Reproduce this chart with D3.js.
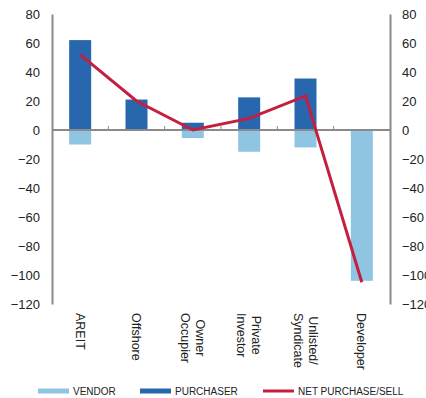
<!DOCTYPE html>
<html>
<head>
<meta charset="utf-8">
<script src="https://cdn.jsdelivr.net/npm/d3@7"></script>
<style>
  body { margin: 0; background: #fff; }
  text { font-family: "Liberation Sans", Arial, sans-serif; fill: #222; }
</style>
</head>
<body>
<svg id="vis" width="426" height="398"></svg>
<script>
const categories = [["AREIT"], ["Offshore"], ["Owner", "Occupier"], ["Private", "Investor"], ["Unlisted/", "Syndicate"], ["Developer"]];
const purchaser = [62, 21, 5, 22.5, 35.5, 0];
const vendor = [-10, 0, -5.5, -15, -12, -104];
const net = [52, 20, 0, 8, 23.5, -105];
const yTicks = [80, 60, 40, 20, 0, -20, -40, -60, -80, -100, -120];

const colors = { vendor: "#8fc4e2", purchaser: "#2867ae", net: "#c41f3f", axis: "#8a8a8a" };

const svg = d3.select("#vis");
const left = 52, right = 390;

const x = d3.scaleBand().domain(d3.range(categories.length)).range([left, right]);
const y = d3.scaleLinear().domain([-120, 80]).range([304, 14]);
const barW = 22;

// bars
svg.append("g").selectAll("rect.vendor")
  .data(vendor)
  .join("rect")
    .attr("x", (d, i) => x(i) + (x.bandwidth() - barW) / 2)
    .attr("y", y(0))
    .attr("width", barW)
    .attr("height", d => y(d) - y(0))
    .attr("fill", colors.vendor);

svg.append("g").selectAll("rect.purch")
  .data(purchaser)
  .join("rect")
    .attr("x", (d, i) => x(i) + (x.bandwidth() - barW) / 2)
    .attr("y", d => y(d))
    .attr("width", barW)
    .attr("height", d => y(0) - y(d))
    .attr("fill", colors.purchaser);

// axes
const leftAxis = d3.axisLeft(y).tickValues(yTicks).tickSize(0).tickPadding(12);
const rightAxis = d3.axisRight(y).tickValues(yTicks).tickSize(0).tickPadding(12);

[[leftAxis, left], [rightAxis, right]].forEach(([ax, pos]) => {
  const g = svg.append("g").attr("transform", `translate(${pos},0)`).call(ax);
  g.select(".domain").attr("stroke", colors.axis).attr("stroke-width", 2);
  g.selectAll("text").attr("font-size", 13).attr("fill", "#222")
    .attr("font-family", "Liberation Sans, Arial, sans-serif");
});

// zero line with category separators
svg.append("line")
  .attr("x1", left).attr("x2", right)
  .attr("y1", y(0)).attr("y2", y(0))
  .attr("stroke", colors.axis).attr("stroke-width", 2);

svg.append("g").selectAll("line")
  .data(d3.range(1, categories.length))
  .join("line")
    .attr("x1", i => x(i)).attr("x2", i => x(i))
    .attr("y1", y(0)).attr("y2", y(0) - 4)
    .attr("stroke", colors.axis).attr("stroke-width", 1);

// net line
const line = d3.line()
  .x((d, i) => x(i) + x.bandwidth() / 2)
  .y(d => y(d));

svg.append("path")
  .datum(net)
  .attr("d", line)
  .attr("fill", "none")
  .attr("stroke", colors.net)
  .attr("stroke-width", 3);

// category labels, rotated, lines centred within their block
const lineGap = 15;
categories.forEach((lines, i) => {
  const cx = x(i) + x.bandwidth() / 2;
  const g = svg.append("g")
    .attr("transform", `translate(${cx - (lines.length - 1) * lineGap / 2 - 4.5},313) rotate(90)`);
  const t = g.selectAll("text").data(lines).join("text")
    .attr("font-size", 12.5)
    .attr("dy", (d, j) => -(lines.length - 1 - j) * lineGap)
    .text(d => d);
  const maxW = d3.max(t.nodes(), n => n.getComputedTextLength());
  t.attr("text-anchor", "middle").attr("x", maxW / 2);
});

// legend
const legend = [
  { label: "VENDOR", color: colors.vendor, x: 38, h: 5 },
  { label: "PURCHASER", color: colors.purchaser, x: 140, h: 5 },
  { label: "NET PURCHASE/SELL", color: colors.net, x: 263, h: 3 }
];
const lg = svg.append("g").selectAll("g").data(legend).join("g")
  .attr("transform", d => `translate(${d.x},391)`);
lg.append("rect")
  .attr("x", 0).attr("y", d => -d.h / 2)
  .attr("width", 31).attr("height", d => d.h)
  .attr("fill", d => d.color);
lg.append("text")
  .attr("x", 35).attr("dy", "0.35em")
  .attr("font-size", 10)
  .text(d => d.label);
</script>
</body>
</html>
